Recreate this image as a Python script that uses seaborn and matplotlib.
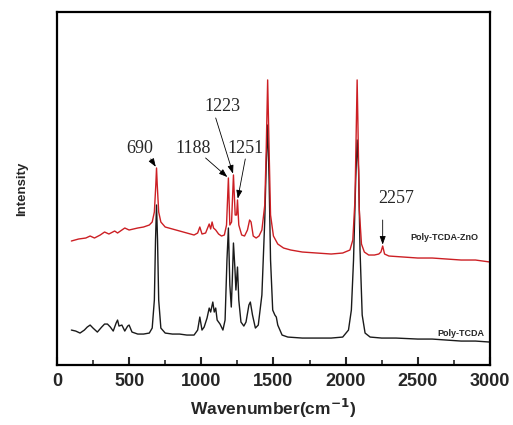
import numpy as np
import pandas as pd
import matplotlib
matplotlib.use("Agg")
import matplotlib.pyplot as plt
from matplotlib.ticker import MultipleLocator
import seaborn as sns

# ---- data (intensity in arbitrary units) ----
zno_x = [100, 150, 200, 230, 260, 300, 330, 360, 400, 420, 440, 470, 500, 530, 560, 600,
         640, 660, 675, 685, 690, 695, 705, 720, 750, 800, 850, 900, 950, 975, 990, 1005,
         1030, 1055, 1065, 1075, 1085, 1100, 1120, 1140, 1160, 1175, 1188, 1198, 1210, 1223,
         1235, 1245, 1251, 1260, 1280, 1300, 1320, 1335, 1345, 1360, 1380, 1400, 1420, 1440,
         1450, 1460, 1470, 1480, 1500, 1530, 1570, 1620, 1700, 1800, 1900, 1980, 2030, 2050,
         2065, 2075, 2080, 2085, 2095, 2110, 2130, 2160, 2200, 2230, 2245, 2257, 2270, 2300,
         2400, 2500, 2600, 2700, 2800, 2900, 3000]
zno_y = [124, 126, 127, 129, 127, 130, 133, 131, 134, 132, 134, 137, 135, 136, 137, 138,
         140, 143, 153, 180, 197, 180, 153, 143, 138, 136, 134, 132, 130, 132, 138, 131,
         132, 141, 136, 143, 137, 135, 131, 129, 130, 140, 187, 140, 143, 190,
         150, 150, 165, 140, 130, 129, 135, 145, 143, 129, 127, 129, 135, 160,
         215, 285, 215, 150, 129, 121, 117, 115, 113, 112, 111, 112, 115, 125,
         165, 245, 285, 245, 155, 121, 113, 110, 110, 111, 113, 119, 111, 109,
         108, 107, 107, 106, 105, 105, 103]

tcda_x = [100, 130, 160, 190, 210, 230, 250, 280, 310, 330, 350, 370, 390, 410, 420, 430,
          450, 470, 490, 500, 520, 560, 600, 640, 660, 675, 683, 690, 697, 705, 720, 750,
          800, 850, 900, 950, 975, 990, 1005, 1020, 1040, 1055, 1065, 1080, 1090, 1100, 1110,
          1130, 1150, 1165, 1178, 1188, 1198, 1208, 1215, 1223, 1233, 1240, 1251, 1260, 1275,
          1295, 1310, 1330, 1340, 1355, 1375, 1395, 1420, 1440, 1450, 1460, 1470, 1480, 1495,
          1510, 1520, 1530, 1560, 1600, 1700, 1800, 1900, 1980, 2020, 2040, 2055, 2070, 2080,
          2090, 2100, 2115, 2135, 2170, 2250, 2350, 2500, 2600, 2700, 2800, 2900, 3000]
tcda_y = [35, 34, 32, 35, 38, 40, 37, 33, 38, 41, 41, 38, 34, 42, 45, 39,
          40, 34, 39, 40, 33, 31, 31, 32, 37, 65, 125, 160, 125, 65, 37, 32,
          31, 31, 30, 30, 35, 48, 35, 38, 47, 57, 53, 63, 53, 57, 45,
          41, 35, 45, 105, 137, 80, 58, 85, 122, 97, 75, 98, 65, 43,
          39, 43, 60, 63, 50, 37, 40, 70, 145, 200, 240, 185, 105, 55,
          50, 48, 40, 30, 28, 27, 27, 27, 28, 35, 55, 105, 185, 225,
          195, 115, 50, 32, 28, 27, 27, 26, 26, 25, 24, 24, 23]

series_names = ["Poly-TCDA", "Poly-TCDA-ZnO"]
peak_labels = ["690", "1188", "1223", "1251", "2257"]

df = pd.concat([
    pd.DataFrame({"wavenumber": tcda_x, "intensity": tcda_y, "sample": series_names[0]}),
    pd.DataFrame({"wavenumber": zno_x, "intensity": zno_y, "sample": series_names[1]}),
])

sns.set_style("ticks")
plt.rcParams["font.family"] = ["Liberation Sans", "DejaVu Sans"]

fig = plt.figure(figsize=(5.13, 4.25), dpi=100)
ax = fig.add_axes([0.111, 0.141, 0.844, 0.831])

sns.lineplot(data=df, x="wavenumber", y="intensity", hue="sample",
             palette={series_names[0]: "#1a1a1a", series_names[1]: "#cc1f24"},
             linewidth=1.0, legend=False, ax=ax, sort=False, estimator=None)

ax.set_xlim(0, 3000)
ax.set_ylim(0, 353)
ax.set_yticks([])
ax.xaxis.set_major_locator(MultipleLocator(500))
ax.xaxis.set_minor_locator(MultipleLocator(250))
ax.tick_params(axis="x", which="major", direction="in", length=6, width=1.5,
               labelsize=13, pad=6, top=False)
ax.tick_params(axis="x", which="minor", direction="in", length=3.5, width=1.2, top=False)
for lab in ax.get_xticklabels():
    lab.set_fontweight("bold")
for s in ax.spines.values():
    s.set_visible(True)
    s.set_linewidth(1.6)
    s.set_color("black")

ax.set_xlabel("Wavenumber(cm$^{\\mathbf{-1}}$)", fontsize=12.5, fontweight="bold", labelpad=5)
ax.set_ylabel("Intensity", fontsize=9.5, fontweight="bold", labelpad=21)

# peak annotations (text position, arrow tip)
serif = ["Liberation Serif", "DejaVu Serif"]
ann = [
    (peak_labels[0], (690, 197), (575, 216), (650, 206)),
    (peak_labels[1], (1188, 187), (940, 216), (1030, 207)),
    (peak_labels[2], (1223, 190), (1145, 258), (1100, 247)),
    (peak_labels[3], (1251, 165), (1310, 216), (1305, 206)),
    (peak_labels[4], (2257, 119), (2350, 166), (2257, 145)),
]
for txt, tip, tpos, tail in ann:
    ax.text(tpos[0], tpos[1], txt, fontsize=13, family=serif, ha="center", va="center")
    ax.annotate("", xy=tip, xytext=tail,
                arrowprops=dict(arrowstyle="-|>,head_length=0.5,head_width=0.18",
                                color="black", lw=0.6, shrinkA=0, shrinkB=1))

ax.text(2920, 128, series_names[1], fontsize=6.5, fontweight="bold", ha="right", va="center")
ax.text(2960, 32, series_names[0], fontsize=6.5, fontweight="bold", ha="right", va="center")

fig.savefig("out.png", dpi=100)
